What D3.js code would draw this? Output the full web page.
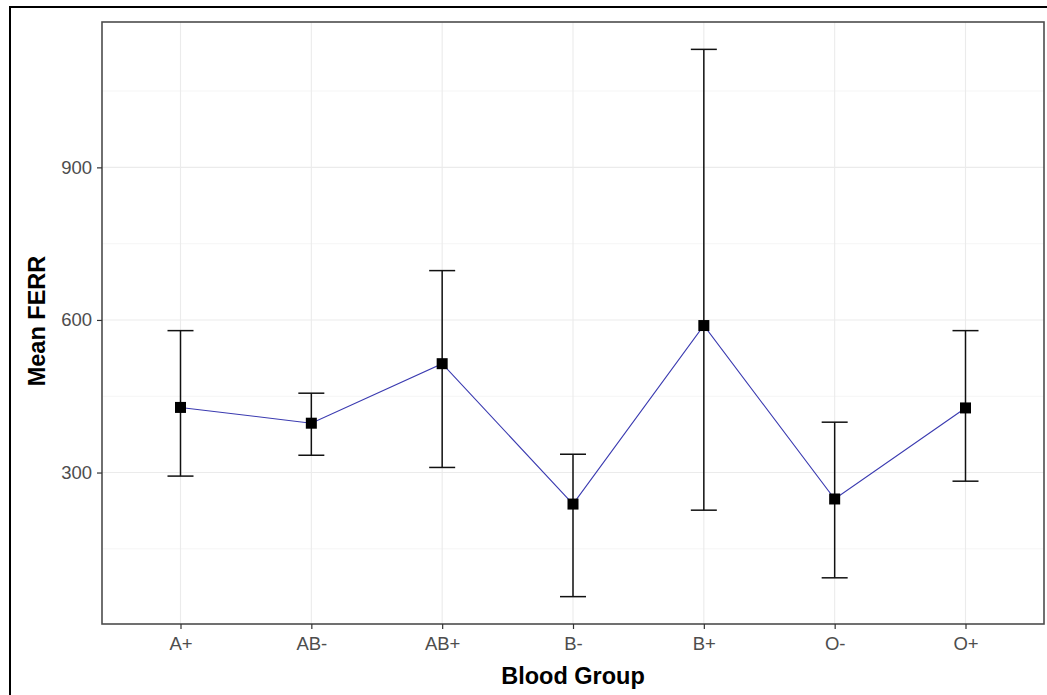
<!DOCTYPE html>
<html>
<head>
<meta charset="utf-8">
<script src="https://cdn.jsdelivr.net/npm/d3@7"></script>
<style>
  body { margin: 0; background: #fff; }
  svg { display: block; font-family: "Liberation Sans", Arial, sans-serif; }
  .gridMajor { stroke: #ebebeb; stroke-width: 1.1; }
  .gridMinor { stroke: #f4f4f4; stroke-width: 0.9; }
  .tickLabel { fill: #4d4d4d; font-size: 18.5px; }
  .axisTitle { fill: #000; font-size: 23.5px; font-weight: bold; }
</style>
</head>
<body>
<script>
(function (){

    //chart data
    var groups = ["A+", "AB-", "AB+", "B-", "B+", "O-", "O+"];
    var meanFerr = [428, 397, 514, 238, 589, 248, 427];
    var lowerFerr = [293, 334, 310, 56, 226, 93, 283];
    var upperFerr = [579, 456, 697, 336, 1132, 399, 579];
    var yTicks = [300, 600, 900];
    var yMinorTicks = [150, 450, 750, 1050];

    var width = 1047,
        height = 695;

    //panel edges
    var left = 102, right = 1044, top = 22, bottom = 624;

    var svg = d3.select("body")
        .append("svg")
        .attr("width", width)
        .attr("height", height);

    //outer frame (image border)
    svg.append("rect")
        .attr("x", 10)
        .attr("y", 7)
        .attr("width", width + 20)
        .attr("height", height + 20)
        .attr("fill", "none")
        .attr("stroke", "#000")
        .attr("stroke-width", 2);

    //x scale with ggplot style 0.6 padding
    var xScale = d3.scalePoint()
        .domain(groups)
        .range([left, right])
        .padding(0.6);

    //y scale with 5% expansion
    var yMin = d3.min(lowerFerr), yMax = d3.max(upperFerr);
    var pad = (yMax - yMin) * 0.05;
    var yScale = d3.scaleLinear()
        .domain([yMin - pad, yMax + pad])
        .range([bottom, top]);

    //minor grid
    svg.selectAll(".gridMinor")
        .data(yMinorTicks)
        .enter()
        .append("line")
        .attr("class", "gridMinor")
        .attr("x1", left).attr("x2", right)
        .attr("y1", function(d){ return yScale(d); })
        .attr("y2", function(d){ return yScale(d); });

    //major grid
    svg.selectAll(".gridMajorY")
        .data(yTicks)
        .enter()
        .append("line")
        .attr("class", "gridMajor")
        .attr("x1", left).attr("x2", right)
        .attr("y1", function(d){ return yScale(d); })
        .attr("y2", function(d){ return yScale(d); });

    svg.selectAll(".gridMajorX")
        .data(groups)
        .enter()
        .append("line")
        .attr("class", "gridMajor")
        .attr("y1", top).attr("y2", bottom)
        .attr("x1", function(d){ return xScale(d); })
        .attr("x2", function(d){ return xScale(d); });

    var rows = groups.map(function(g, i){
        return {g: g, mean: meanFerr[i], lo: lowerFerr[i], hi: upperFerr[i]};
    });

    //line through means
    var line = d3.line()
        .x(function(d){ return xScale(d.g); })
        .y(function(d){ return yScale(d.mean); });

    svg.append("path")
        .datum(rows)
        .attr("d", line)
        .attr("fill", "none")
        .attr("stroke", "#3a3ab0")
        .attr("stroke-width", 1.1);

    //error bars
    var bars = svg.selectAll(".errBar")
        .data(rows)
        .enter()
        .append("g")
        .attr("class", "errBar")
        .attr("stroke", "#111")
        .attr("stroke-width", 1.5);

    bars.append("line")
        .attr("x1", function(d){ return xScale(d.g); })
        .attr("x2", function(d){ return xScale(d.g); })
        .attr("y1", function(d){ return yScale(d.lo); })
        .attr("y2", function(d){ return yScale(d.hi); });

    bars.append("line")
        .attr("x1", function(d){ return xScale(d.g) - 13; })
        .attr("x2", function(d){ return xScale(d.g) + 13; })
        .attr("y1", function(d){ return yScale(d.hi); })
        .attr("y2", function(d){ return yScale(d.hi); });

    bars.append("line")
        .attr("x1", function(d){ return xScale(d.g) - 13; })
        .attr("x2", function(d){ return xScale(d.g) + 13; })
        .attr("y1", function(d){ return yScale(d.lo); })
        .attr("y2", function(d){ return yScale(d.lo); });

    //mean points
    svg.selectAll(".meanPt")
        .data(rows)
        .enter()
        .append("rect")
        .attr("class", "meanPt")
        .attr("x", function(d){ return xScale(d.g) - 5.5; })
        .attr("y", function(d){ return yScale(d.mean) - 5.5; })
        .attr("width", 11)
        .attr("height", 11)
        .attr("fill", "#000");

    //panel border
    svg.append("rect")
        .attr("x", left)
        .attr("y", top)
        .attr("width", right - left)
        .attr("height", bottom - top)
        .attr("fill", "none")
        .attr("stroke", "#4d4d4d")
        .attr("stroke-width", 1.6);

    //y axis
    var yAxis = d3.axisLeft(yScale)
        .tickValues(yTicks)
        .tickSize(5)
        .tickPadding(5);

    var yAx = svg.append("g")
        .attr("transform", "translate(" + left + ",0)")
        .call(yAxis);
    yAx.select(".domain").remove();
    yAx.selectAll(".tick line").attr("stroke", "#333").attr("stroke-width", 1.2);
    yAx.selectAll(".tick text")
        .attr("class", "tickLabel")
        .attr("font-family", null)
        .attr("font-size", null)
        .attr("fill", null);

    //x axis
    var xAxis = d3.axisBottom(xScale)
        .tickSize(5)
        .tickPadding(8);

    var xAx = svg.append("g")
        .attr("transform", "translate(0," + bottom + ")")
        .call(xAxis);
    xAx.select(".domain").remove();
    xAx.selectAll(".tick line").attr("stroke", "#333").attr("stroke-width", 1.2);
    xAx.selectAll(".tick text")
        .attr("class", "tickLabel")
        .attr("font-family", null)
        .attr("font-size", null)
        .attr("fill", null);

    //axis titles
    svg.append("text")
        .attr("class", "axisTitle")
        .attr("x", (left + right) / 2)
        .attr("y", 684)
        .attr("text-anchor", "middle")
        .text("Blood Group");

    svg.append("text")
        .attr("class", "axisTitle")
        .attr("transform", "translate(45," + ((top + bottom) / 2 - 2) + ") rotate(-90)")
        .attr("text-anchor", "middle")
        .text("Mean FERR");

})();
</script>
</body>
</html>
